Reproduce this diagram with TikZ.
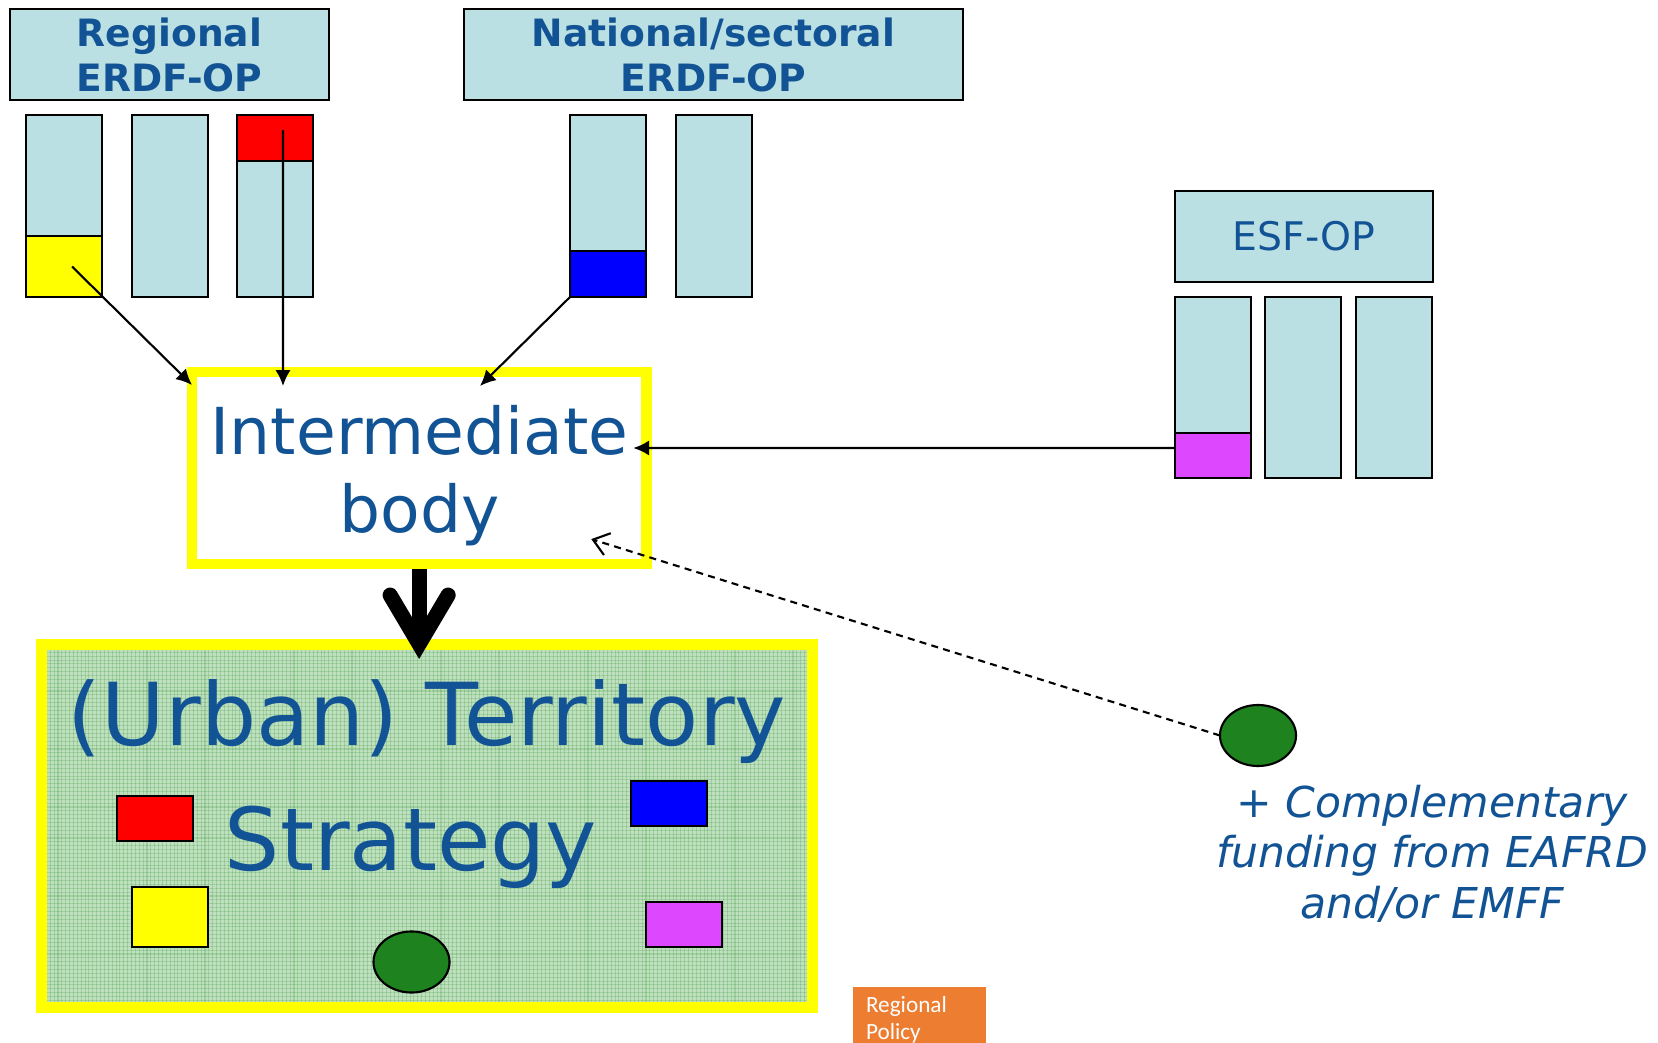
\documentclass[tikz,border=0pt]{standalone}
\usepackage{fontspec}
\setmainfont{DejaVu Sans}
\newfontfamily\carlitofont{Carlito}
\usetikzlibrary{arrows.meta,shapes.geometric,calc,patterns.meta}
\definecolor{lb}{RGB}{187,224,227}
\definecolor{txt}{RGB}{17,83,148}
\definecolor{mag}{RGB}{221,72,255}
\definecolor{dgreen}{RGB}{30,130,30}
\definecolor{pgreen}{RGB}{190,224,190}
\definecolor{orng}{RGB}{237,125,49}
\definecolor{yel}{RGB}{255,255,0}
\begin{document}
\begin{tikzpicture}[x=0.01cm,y=-0.01cm,outer sep=0pt,
  opbox/.style={draw=black,line width=0.6pt,fill=lb,inner sep=0pt,anchor=north west,minimum width=#1},
  colbox/.style={draw=black,line width=0.6pt,fill=#1,inner sep=0pt,anchor=north west,minimum width=0.76cm},
  hdr/.style={anchor=base,text=txt,font=\fontsize{10.7pt}{12.8pt}\selectfont\bfseries},
  arr/.style={line width=0.6pt,-{Latex[length=4.5pt,width=4.3pt]}},
  yframe/.style={draw=yel,line width=3pt,inner sep=0pt,anchor=north west},
  blob/.style={ellipse,draw=black,line width=0.6pt,fill=dgreen,inner sep=0pt,minimum width=0.76cm,minimum height=0.61cm},
  smallrect/.style={draw=black,line width=0.6pt,fill=#1,inner sep=0pt,anchor=north west,minimum width=0.76cm,minimum height=0.45cm}
]
\useasboundingbox (0,0) rectangle (1658,1043);

% Regional ERDF-OP
\node[opbox=3.19cm,minimum height=0.91cm] (reg) at (10,9) {};
\node[hdr] (regt1) at (169.5,47) {Regional};
\node[hdr] (regt2) at (169.5,92) {ERDF-OP};
\node[colbox=lb,minimum height=1.82cm] (r1) at (26,115) {};
\node[colbox=yel,minimum height=0.61cm] (r1y) at (26,236) {};
\node[colbox=lb,minimum height=1.82cm] (r2) at (132,115) {};
\node[colbox=lb,minimum height=1.82cm] (r3) at (237,115) {};
\node[colbox=red,minimum height=0.46cm] (r3r) at (237,115) {};

% National/sectoral ERDF-OP
\node[opbox=4.99cm,minimum height=0.91cm] (nat) at (464,9) {};
\node[hdr] (natt1) at (713.5,47) {National/sectoral};
\node[hdr] (natt2) at (713.5,92) {ERDF-OP};
\node[colbox=lb,minimum height=1.82cm] (n1) at (570,115) {};
\node[colbox=blue,minimum height=0.46cm] (n1b) at (570,251) {};
\node[colbox=lb,minimum height=1.82cm] (n2) at (676,115) {};

% ESF-OP
\node[opbox=2.58cm,minimum height=0.91cm] (esf) at (1175,191) {};
\node[anchor=base,text=txt,font=\fontsize{11.2pt}{13pt}\selectfont] (esft) at (1304,251) {ESF-OP};
\node[colbox=lb,minimum height=1.81cm] (e1) at (1175,297) {};
\node[colbox=mag,minimum height=0.45cm] (e1m) at (1175,433) {};
\node[colbox=lb,minimum height=1.81cm] (e2) at (1265,297) {};
\node[colbox=lb,minimum height=1.81cm] (e3) at (1356,297) {};

% Intermediate body
\node[yframe,fill=white,minimum width=4.54cm,minimum height=1.92cm] (ib) at (192,372) {};
\node[anchor=base,text=txt,font=\fontsize{18.4pt}{22pt}\selectfont] (ibt1) at (419.5,455) {Intermediate};
\node[anchor=base,text=txt,font=\fontsize{18.4pt}{22pt}\selectfont] (ibt2) at (419.5,532) {body};

% (Urban) Territory Strategy
\node[yframe,fill=pgreen,minimum width=7.705cm,minimum height=3.63cm] (uts) at (41.5,644.5) {};
\fill[pattern={Lines[angle=0,distance=1.1pt,line width=0.3pt]},pattern color=green!45!black,opacity=0.16] (47,650) rectangle (807,1002);
\fill[pattern={Lines[angle=90,distance=1.1pt,line width=0.3pt]},pattern color=green!45!black,opacity=0.16] (47,650) rectangle (807,1002);
\node[anchor=base,text=txt,font=\fontsize{24.7pt}{30pt}\selectfont] (utst1) at (427,745) {(Urban) Territory};
\node[anchor=base,text=txt,font=\fontsize{24.7pt}{30pt}\selectfont] (utst2) at (411,870) {Strategy};
\node[smallrect=red] (sr) at (117,796) {};
\node[smallrect=yel,minimum height=0.6cm] (sy) at (132,887) {};
\node[smallrect=blue] (sb) at (631,781) {};
\node[smallrect=mag] (sm) at (646,902) {};
\node[blob] (sg) at (411.5,962) {};

% complementary funding
\node[blob] (cg) at (1258,735.5) {};
\node[anchor=base,text=txt,font=\fontsize{12.1pt}{14pt}\selectfont\itshape] (ct1) at (1432,817) {+ Complementary};
\node[anchor=base,text=txt,font=\fontsize{12.1pt}{14pt}\selectfont\itshape] (ct2) at (1432,867) {funding from EAFRD};
\node[anchor=base,text=txt,font=\fontsize{12.1pt}{14pt}\selectfont\itshape] (ct3) at (1432,918) {and/or EMFF};

% Regional Policy tag
\node[fill=orng,inner sep=0pt,anchor=north west,minimum width=1.33cm,minimum height=0.8cm] (rp) at (853,987) {};
\node[anchor=base west,text=white,inner sep=0pt,font=\carlitofont\fontsize{6.6pt}{8pt}\selectfont] (rpt1) at (866,1012) {Regional};
\node[anchor=base west,text=white,inner sep=0pt,font=\carlitofont\fontsize{6.6pt}{8pt}\selectfont] (rpt2) at (866,1039) {Policy};

% connectors
\draw[arr] ($(r1y.center)+(8,0)$) -- ($(ib.north west)+(0,13)$);
\draw[arr] ($(r3r.center)+(8,-8)$) -- ($(ib.north west)+(91,14)$);
\draw[arr] (n1b.south west) -- ($(ib.north west)+(288,14)$);
\draw[arr] ($(e1m.west)+(0,-7.5)$) -- ($(ib.north east)+(-13,76)$);
\draw[line width=0.6pt,dash pattern=on 2pt off 1.5pt,-{Straight Barb[length=4.3pt,width=6.5pt]}] (cg.west) -- ($(ib.south east)+(-55,-25)$);

% thick arrow
\coordinate (tk) at ($(ib.south)+(0,80)$);
\draw[line width=4.3pt] ($(ib.south)+(0,5)$) -- (tk);
\draw[line width=4.3pt,line cap=round,line join=miter] ($(tk)+(-29,-49)$) -- (tk) -- ($(tk)+(29,-49)$);
\end{tikzpicture}
\end{document}
